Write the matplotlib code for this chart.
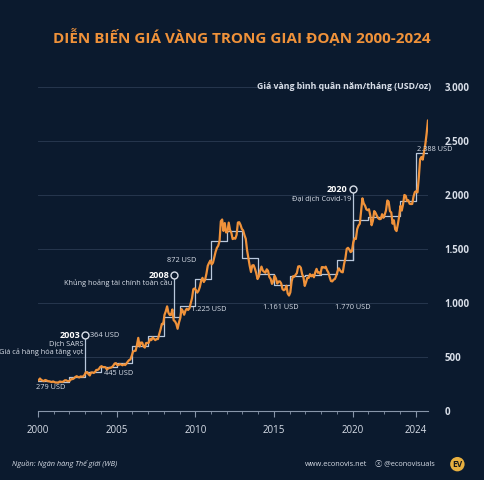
import matplotlib.pyplot as plt
import numpy as np

plt.rcParams['font.family'] = ['Open Sans', 'DejaVu Sans']

years = list(range(2000, 2025))
annual_avg = [279, 271, 310, 364, 409, 445, 604, 697, 872, 973, 1225, 1569, 1669, 1411, 1266,
              1161, 1249, 1257, 1269, 1393, 1770, 1799, 1801, 1943, 2388]
monthly = [
 284,300,286,280,275,286,282,275,274,270,266,272,
 266,262,263,261,272,270,268,273,283,283,276,275,
 282,296,294,302,314,321,314,310,319,317,319,333,
 357,359,340,328,355,356,351,360,379,379,389,407,
 414,405,406,404,384,392,398,400,406,420,439,442,
 424,424,434,428,422,431,424,438,456,470,476,510,
 549,555,557,610,676,596,633,632,598,586,628,629,
 631,665,655,679,667,655,665,665,712,754,806,803,
 889,922,968,909,888,889,939,839,829,806,760,816,
 858,943,924,890,928,946,934,949,996,1043,1127,1134,
 1118,1095,1113,1149,1205,1232,1193,1215,1271,1343,1370,1392,
 1356,1372,1424,1474,1510,1529,1573,1756,1772,1666,1739,1652,
 1656,1743,1675,1649,1591,1598,1594,1630,1744,1747,1722,1685,
 1671,1627,1593,1487,1414,1343,1286,1347,1349,1316,1275,1221,
 1244,1300,1336,1299,1288,1279,1311,1296,1239,1222,1176,1200,
 1251,1227,1179,1198,1199,1181,1128,1117,1125,1159,1087,1068,
 1097,1200,1246,1242,1260,1276,1337,1340,1326,1266,1238,1157,
 1192,1234,1231,1266,1246,1260,1237,1283,1315,1279,1282,1265,
 1331,1331,1325,1335,1303,1282,1238,1202,1199,1215,1221,1250,
 1291,1320,1300,1286,1283,1359,1413,1500,1510,1494,1470,1480,
 1560,1597,1592,1683,1716,1732,1846,1968,1921,1900,1866,1858,
 1867,1808,1719,1760,1850,1834,1807,1785,1775,1777,1821,1788,
 1817,1856,1948,1937,1849,1837,1733,1765,1681,1665,1726,1798,
 1898,1854,1912,1999,1992,1942,1951,1918,1915,1916,1985,2026,
 2034,2023,2158,2331,2351,2326,2399,2470,2570,2690,2651]
yticks = [0, 500, 1000, 1500, 2000, 2500, 3000]
ytick_labels = ["0", "500", "1.000", "1.500", "2.000", "2.500", "3.000"]
xticks = [2000, 2005, 2010, 2015, 2020, 2024]

BG = "#0b1a2e"
ORANGE = "#f0923a"
STEP = "#b9c8dc"
TXT = "#d8dee8"

fig = plt.figure(figsize=(4.84, 4.8), dpi=100, facecolor=BG)
ax = fig.add_axes([0.0785, 0.144, 0.806, 0.675], facecolor=BG)
ax.set_xlim(2000, 2024.8)
ax.set_ylim(0, 3000)

for v in yticks[1:]:
    ax.axhline(v, color="#26364d", lw=0.7, zorder=0)

sx = years + [2024.7]
sy = annual_avg + [annual_avg[-1]]
ax.step(sx, sy, where="post", color=STEP, lw=0.9, zorder=2)

mx = 2000 + (np.arange(len(monthly)) + 0.5) / 12
ax.plot(mx, monthly, color=ORANGE, lw=1.6, zorder=3)

ann = [(2003, 364, 700, "2003", "364 USD", ["Dịch SARS", "Giá cả hàng hóa tăng vọt"], 80),
       (2008.65, 872, 1255, "2008", None, ["Khủng hoảng tài chính toàn cầu"], 70),
       (2020, 1393, 2050, "2020", None, ["Đại dịch Covid-19"], 80)]
for x, y0, y1, yr, lab, lines, d in ann:
    ax.plot([x, x], [y0, y1 - 30], color=STEP, lw=0.9, zorder=2)
    ax.plot([x], [y1], marker="o", ms=5, mfc=BG, mec=TXT, mew=1, zorder=4)
    ax.text(x - 0.3, y1, yr, color="white", fontsize=6.5, fontweight="bold", ha="right", va="center")
    if lab:
        ax.text(x + 0.3, y1, lab, color=TXT, fontsize=5.3, ha="left", va="center")
    for i, l in enumerate(lines):
        ax.text(x - 0.1, y1 - d - (i + 0.0) * 80, l, color=TXT, fontsize=5.3, ha="right", va="center")

labels = [(1999.9, 220, "279 USD"), (2004.2, 350, "445 USD"), (2008.2, 1390, "872 USD"),
          (2009.7, 940, "1.225 USD"), (2014.3, 955, "1.161 USD"), (2018.9, 955, "1.770 USD"),
          (2024.1, 2420, "2.388 USD")]
for x, y, t in labels:
    ax.text(x, y, t, color=TXT, fontsize=5.3, ha="left", va="center")

for s in ["top", "right", "left"]:
    ax.spines[s].set_visible(False)
ax.spines["bottom"].set_color("#8896aa")
ax.set_xticks(xticks)
ax.set_xticklabels([str(v) for v in xticks])
ax.set_xticks(years, minor=True)
ax.tick_params(axis="x", colors="#8896aa", labelcolor=TXT, labelsize=7, length=4, width=0.8, pad=6)
ax.tick_params(axis="x", which="minor", colors="#8896aa", length=2.5)
ax.yaxis.tick_right()
ax.set_yticks(yticks)
ax.set_yticklabels(ytick_labels)
ax.tick_params(axis="y", length=0, labelcolor=TXT, labelsize=7, pad=12)
for t in ax.get_yticklabels():
    t.set_fontweight("bold")
ax.text(2025.0, 3000, "Giá vàng bình quân năm/tháng (USD/oz)", color=TXT, fontsize=6.3,
        fontweight="bold", ha="right", va="center", clip_on=False)

fig.text(0.5, 0.925, "DIỄN BIẾN GIÁ VÀNG TRONG GIAI ĐOẠN 2000-2024", color=ORANGE,
         fontsize=11, fontweight="bold", ha="center", va="center")
fig.text(0.025, 0.033, "Nguồn: Ngân hàng Thế giới (WB)", color=TXT, fontsize=5.3, ha="left", va="center",
         style="italic")
fig.text(0.63, 0.033, "www.econovis.net", color=TXT, fontsize=5.3, ha="left", va="center")
fig.text(0.775, 0.033, "ⓧ @econovisuals", color=TXT, fontsize=5.3, ha="left", va="center",
         family=['Open Sans', 'Noto Sans CJK JP', 'DejaVu Sans'])
fig.text(0.945, 0.033, "EV", color="#1a1a1a", fontsize=6, fontweight="bold", ha="center", va="center",
         bbox=dict(boxstyle="circle,pad=0.25", fc="#e8b040", ec="none"))

fig.savefig("out.png", dpi=100, facecolor=BG)
